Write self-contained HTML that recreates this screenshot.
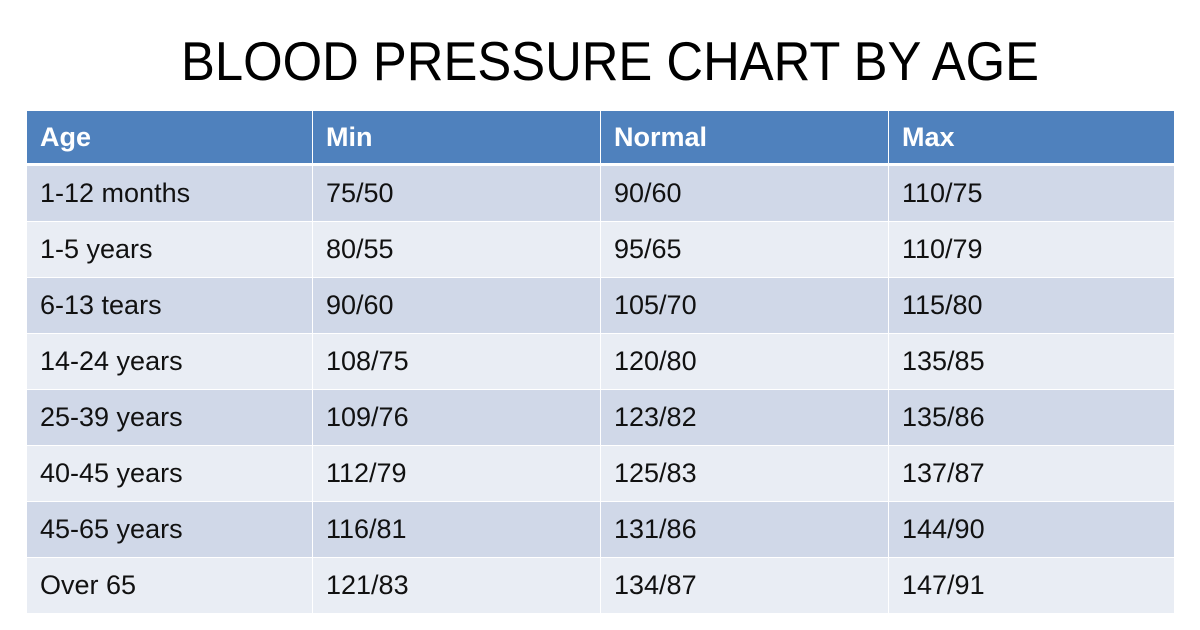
<!DOCTYPE html>
<html><head><meta charset="utf-8"><style>
html,body{margin:0;padding:0;background:#fff;}
body{width:1200px;height:630px;position:relative;overflow:hidden;font-family:"Liberation Sans",sans-serif;}
#title{position:absolute;left:0;top:0;}
table{position:absolute;left:26px;top:111px;border-collapse:collapse;table-layout:fixed;width:1148px;}
td,th{padding:0 0 0 13px;text-align:left;font-size:27px;color:#111;border-left:1px solid #fff;border-right:1px solid #fff;white-space:nowrap;}
th{background:#4f81bd;color:#fff;font-weight:bold;height:52px;border-bottom:3px solid #fff;}
td{height:55px;border-bottom:1px solid #fff;}
tr.odd td{background:#d0d8e8;}
tr.even td{background:#e9edf4;}
</style></head><body>
<svg id="title" width="1200" height="100">
<text x="610" y="80" text-anchor="middle" font-family="Liberation Sans, sans-serif" font-size="55" textLength="858" lengthAdjust="spacingAndGlyphs" fill="#000">BLOOD PRESSURE CHART BY AGE</text>
</svg>
<table>
<colgroup><col style="width:286px"><col style="width:288px"><col style="width:288px"><col style="width:286px"></colgroup>
<tr><th>Age</th><th>Min</th><th>Normal</th><th>Max</th></tr>
<tr class="odd"><td>1-12 months</td><td>75/50</td><td>90/60</td><td>110/75</td></tr>
<tr class="even"><td>1-5 years</td><td>80/55</td><td>95/65</td><td>110/79</td></tr>
<tr class="odd"><td>6-13 tears</td><td>90/60</td><td>105/70</td><td>115/80</td></tr>
<tr class="even"><td>14-24 years</td><td>108/75</td><td>120/80</td><td>135/85</td></tr>
<tr class="odd"><td>25-39 years</td><td>109/76</td><td>123/82</td><td>135/86</td></tr>
<tr class="even"><td>40-45 years</td><td>112/79</td><td>125/83</td><td>137/87</td></tr>
<tr class="odd"><td>45-65 years</td><td>116/81</td><td>131/86</td><td>144/90</td></tr>
<tr class="even"><td>Over 65</td><td>121/83</td><td>134/87</td><td>147/91</td></tr>
</table>
</body></html>
